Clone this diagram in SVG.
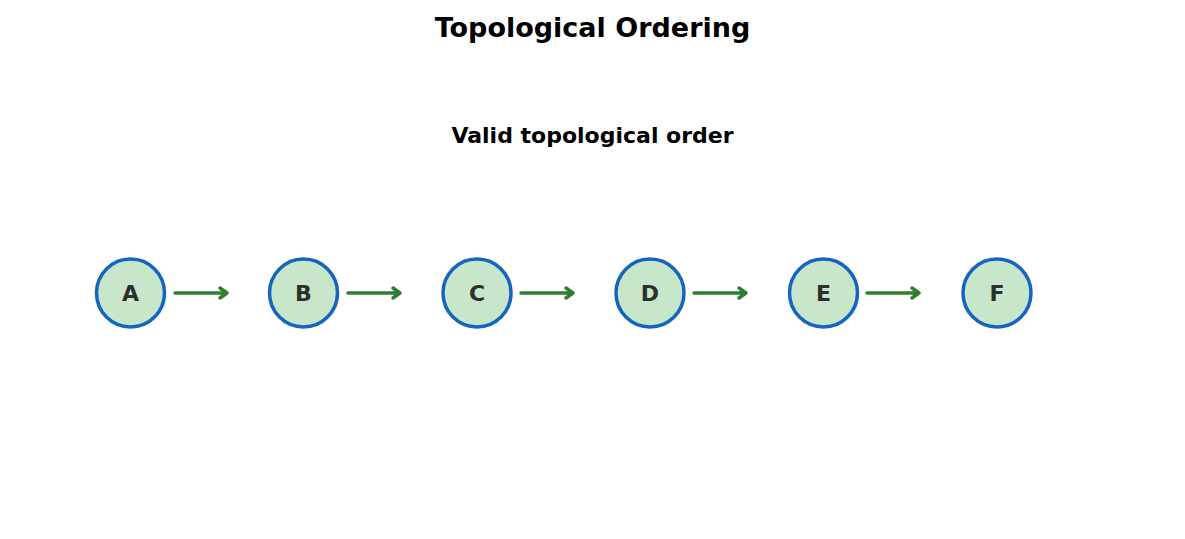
<svg xmlns="http://www.w3.org/2000/svg" width="1185" height="539" viewBox="0 0 1185 539">
<style>
.n{fill:#c8e6c9;stroke:#1565c0;stroke-width:3.5}
.l{font-family:"DejaVu Sans",sans-serif;font-weight:bold;font-size:22px;fill:#2e2e2e;text-anchor:middle}
.e{stroke:#2e7d32;stroke-width:3.5;fill:none;stroke-linecap:round;stroke-linejoin:round}
.t{font-family:"DejaVu Sans",sans-serif;font-weight:bold;fill:#000;text-anchor:middle}
</style>
<rect width="1185" height="539" fill="#fff"/>
<text class="t" x="592.5" y="37" font-size="27">Topological Ordering</text>
<text class="t" x="592.5" y="143" font-size="22">Valid topological order</text>
<g id="connectors">
<path class="e" d="M175 293H227M220 288L227 293L220 298"/>
<path class="e" d="M348 293H400M393 288L400 293L393 298"/>
<path class="e" d="M521 293H573M566 288L573 293L566 298"/>
<path class="e" d="M694 293H746M739 288L746 293L739 298"/>
<path class="e" d="M867 293H919M912 288L919 293L912 298"/>
</g>
<g id="A"><circle class="n" cx="130.5" cy="293" r="34"/><text class="l" x="130.5" y="301">A</text></g>
<g id="B"><circle class="n" cx="303.5" cy="293" r="34"/><text class="l" x="303.5" y="301">B</text></g>
<g id="C"><circle class="n" cx="477" cy="293" r="34"/><text class="l" x="477" y="301">C</text></g>
<g id="D"><circle class="n" cx="650" cy="293" r="34"/><text class="l" x="650" y="301">D</text></g>
<g id="E"><circle class="n" cx="823.5" cy="293" r="34"/><text class="l" x="823.5" y="301">E</text></g>
<g id="F"><circle class="n" cx="997" cy="293" r="34"/><text class="l" x="997" y="301">F</text></g>
</svg>
